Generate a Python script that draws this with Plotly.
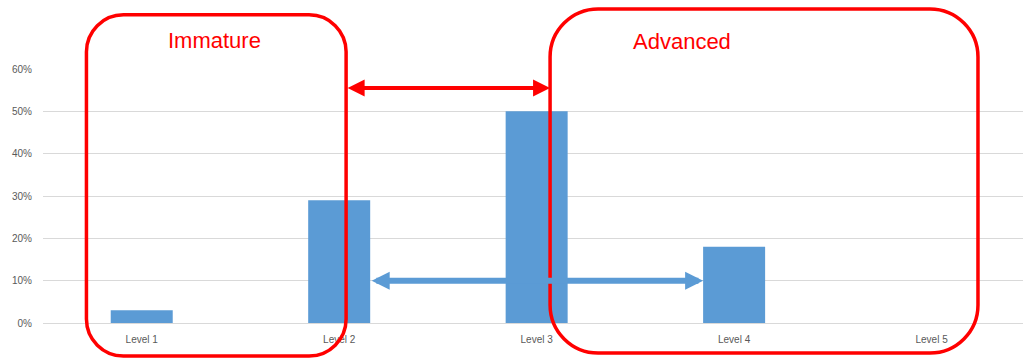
import plotly.graph_objects as go

# Data
levels = ["Level 1", "Level 2", "Level 3", "Level 4", "Level 5"]
shares = [0.03, 0.29, 0.50, 0.18, 0.0]
y_ticks = [0, 0.1, 0.2, 0.3, 0.4, 0.5, 0.6]
y_tick_text = ["0%", "10%", "20%", "30%", "40%", "50%", "60%"]

# Layout geometry
W, H = 1023, 360
ML, MR, MT, MB = 43, 0, 69, 37
PW, PH = W - ML - MR, H - MT - MB
X_MIN, X_MAX = -0.5, 4.463
Y_MIN, Y_MAX = 0.0, 0.6
BAR_WIDTH = 0.314

BLUE = "#5B9BD5"
RED = "#FF0000"
GRID = "#D9D9D9"
TXT = "#595959"

# Group boxes in category / value units
immature_box = dict(x0=-0.28, x1=1.035, y0=-0.078, y1=0.728, r=37)
advanced_box = dict(x0=2.068, x1=4.235, y0=-0.071, y1=0.742, r=48)


def px_x(c):
    return (c - X_MIN) / (X_MAX - X_MIN)


def px_y(v):
    return (v - Y_MIN) / (Y_MAX - Y_MIN)


def rounded_rect(b):
    x0, x1 = px_x(b["x0"]), px_x(b["x1"])
    y0, y1 = px_y(b["y0"]), px_y(b["y1"])
    rx, ry = b["r"] / PW, b["r"] / PH
    k = 0.5523
    return (
        f"M{x0+rx},{y1} L{x1-rx},{y1} "
        f"C{x1-rx+k*rx},{y1} {x1},{y1-ry+k*ry} {x1},{y1-ry} "
        f"L{x1},{y0+ry} "
        f"C{x1},{y0+ry-k*ry} {x1-rx+k*rx},{y0} {x1-rx},{y0} "
        f"L{x0+rx},{y0} "
        f"C{x0+rx-k*rx},{y0} {x0},{y0+ry-k*ry} {x0},{y0+ry} "
        f"L{x0},{y1-ry} "
        f"C{x0},{y1-ry+k*ry} {x0+rx-k*rx},{y1} {x0+rx},{y1} Z"
    )


fig = go.Figure()
fig.add_trace(go.Bar(
    x=list(range(len(levels))),
    y=shares,
    width=BAR_WIDTH,
    marker=dict(color=BLUE, line=dict(width=0)),
    hoverinfo="skip",
))

shapes = []
for b in (immature_box, advanced_box):
    shapes.append(dict(
        type="path", xref="paper", yref="paper", path=rounded_rect(b),
        line=dict(color=RED, width=3.5), fillcolor="rgba(0,0,0,0)", layer="above",
    ))

annotations = [
    dict(text="Immature", x=px_x(0.371), y=px_y(0.668), xref="paper", yref="paper",
         showarrow=False, xanchor="center", yanchor="middle",
         font=dict(family="Liberation Sans", size=22, color=RED)),
    dict(text="Advanced", x=px_x(2.736), y=px_y(0.664), xref="paper", yref="paper",
         showarrow=False, xanchor="center", yanchor="middle",
         font=dict(family="Liberation Sans", size=22, color=RED)),
    # Gap between the two groups
    dict(x=advanced_box["x0"], y=0.555, ax=immature_box["x1"], ay=0.555,
         xref="x", yref="y", axref="x", ayref="y", text="", showarrow=True,
         arrowside="end+start", arrowhead=2, startarrowhead=2,
         arrowwidth=4, arrowsize=0.85, startarrowsize=0.85,
         arrowcolor=RED, standoff=0, startstandoff=0),
    # Span from Level 2 to Level 4
    dict(x=3 - BAR_WIDTH / 2, y=0.10, ax=1 + BAR_WIDTH / 2, ay=0.10,
         xref="x", yref="y", axref="x", ayref="y", text="", showarrow=True,
         arrowside="end+start", arrowhead=2, startarrowhead=2,
         arrowwidth=6, arrowsize=0.6, startarrowsize=0.6,
         arrowcolor=BLUE, standoff=0, startstandoff=0),
]

fig.update_layout(
    width=W, height=H,
    margin=dict(l=ML, r=MR, t=MT, b=MB, pad=0),
    paper_bgcolor="white", plot_bgcolor="white",
    showlegend=False,
    shapes=shapes,
    annotations=annotations,
    font=dict(family="Liberation Sans", size=10, color=TXT),
    xaxis=dict(
        range=[X_MIN, X_MAX], tickmode="array",
        tickvals=list(range(len(levels))), ticktext=levels,
        showgrid=False, zeroline=False, showline=True, linecolor=GRID, linewidth=1,
        ticks="", ticklabelstandoff=7, fixedrange=True,
        tickfont=dict(family="Liberation Sans", size=10, color=TXT),
    ),
    yaxis=dict(
        range=[Y_MIN, Y_MAX], tickmode="array", tickvals=y_ticks, ticktext=y_tick_text,
        showgrid=True, gridcolor=GRID, gridwidth=1, zeroline=False, showline=False,
        ticks="", ticklabelstandoff=10, fixedrange=True,
        tickfont=dict(family="Liberation Sans", size=10, color=TXT),
    ),
)

fig.write_html("out.html")
